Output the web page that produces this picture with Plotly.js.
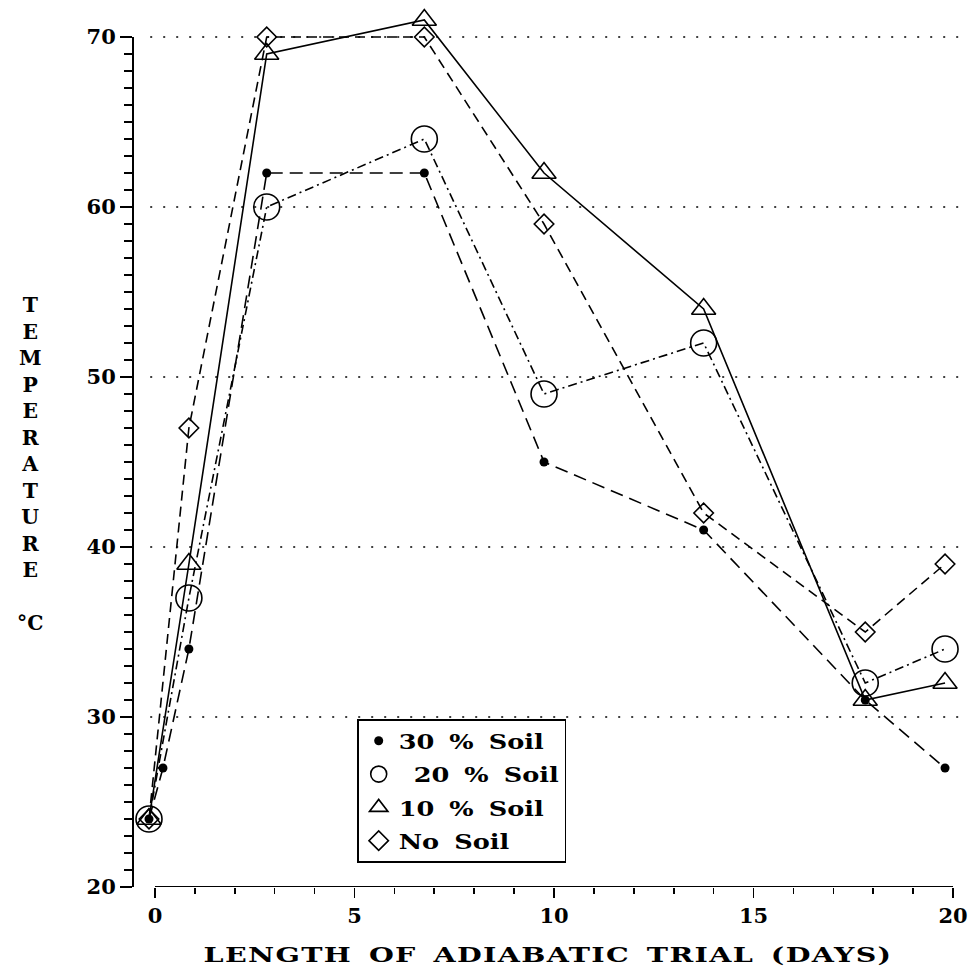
<!DOCTYPE html>
<html>
<head>
<meta charset="utf-8">
<script src="https://cdn.plot.ly/plotly-3.0.1.min.js"></script>
<style>
html,body{margin:0;padding:0;background:#fff}
/* broad, extended lettering for the legend entries and the day-axis caption */
text.legendtext{word-spacing:5px;transform-box:fill-box;transform-origin:left center;transform:scaleX(1.22)}
text.xtitle{letter-spacing:1px;word-spacing:4px;transform-box:fill-box;transform-origin:center;transform:scaleX(1.36)}
</style>
</head>
<body>
<div id="chart" style="width:976px;height:975px"></div>
<script>
// Days on which the compost temperature was recorded
const daysMain = [-0.15, 0.85, 2.8, 6.75, 9.75, 13.75, 17.8, 19.8];
const days30 = [-0.15, 0.2, 0.85, 2.8, 6.75, 9.75, 13.75, 17.8, 19.8];

// Temperature (°C) for each soil proportion
const temp30 = [24, 27, 34, 62, 62, 45, 41, 31, 27];
const temp20 = [24, 37, 60, 64, 49, 52, 32, 34];
const temp10 = [24, 39, 69, 71, 62, 54, 31, 32];
const tempNone = [24, 47, 70, 70, 59, 42, 35, 39];

const seriesNames = ['30 % Soil', '\u00a020 % Soil', '10 % Soil', 'No Soil'];

// Axis ticks and reference lines
const xTicks = [0, 5, 10, 15, 20];
const yTicks = [20, 30, 40, 50, 60, 70];
const gridVals = [30, 40, 50, 60, 70];
const xTitle = 'LENGTH OF ADIABATIC TRIAL (DAYS)';
const yTitleWord = 'TEMPERATURE';
const yTitleUnit = '°C';

const FONT = 'DejaVu Serif';
const xMinor = [];
for (let v = xTicks[0]; v <= xTicks[xTicks.length - 1]; v++) xMinor.push(v);
const yMinor = [];
for (let v = yTicks[0]; v <= yTicks[yTicks.length - 1]; v++) yMinor.push(v);

const series = [
  {x: days30, y: temp30, name: seriesNames[0], dash: '13px,7px',
   marker: {symbol: 'circle', size: 9, color: '#000'}},
  {x: daysMain, y: temp20, name: seriesNames[1], dash: '9px,4px,2px,4px',
   marker: {symbol: 'circle-open', size: 26, color: '#000', line: {width: 1.6, color: '#000'}}},
  {x: daysMain, y: temp10, name: seriesNames[2], dash: 'solid',
   marker: {symbol: 'triangle-up-open', size: 21, color: '#000', line: {width: 1.6, color: '#000'}}},
  {x: daysMain, y: tempNone, name: seriesNames[3], dash: '10px,6px',
   marker: {symbol: 'diamond-open', size: 15, color: '#000', line: {width: 1.6, color: '#000'}}}
];

const traces = [];
series.forEach((s, i) => {
  traces.push({
    x: s.x, y: s.y, type: 'scatter', mode: 'lines',
    line: {color: '#000', width: 1.6, dash: s.dash},
    showlegend: false, legendgroup: 'g' + i, hoverinfo: 'skip'
  });
});
series.forEach((s, i) => {
  traces.push({
    x: s.x, y: s.y, type: 'scatter', mode: 'markers', name: s.name,
    marker: s.marker, cliponaxis: false, legendgroup: 'g' + i
  });
});

const shapes = [];
gridVals.forEach(v => {
  shapes.push({type: 'line', xref: 'x', yref: 'y', x0: -0.12, x1: 20.2, y0: v, y1: v,
    line: {color: '#000', width: 1.6, dash: '2px,11px'}, layer: 'below'});
});
// axis spines: y from 20 to 70, x from 0 to 20
shapes.push({type: 'line', xref: 'paper', yref: 'y', x0: 0, x1: 0,
  y0: yTicks[0], y1: yTicks[yTicks.length - 1], line: {color: '#000', width: 2}});
shapes.push({type: 'line', xref: 'x', yref: 'y', x0: xTicks[0], x1: xTicks[xTicks.length - 1],
  y0: yTicks[0], y1: yTicks[0], line: {color: '#000', width: 2}});

const yTitleText = yTitleWord.split('').join('<br>') + '<br><br>' + yTitleUnit;

const layout = {
  width: 976, height: 975,
  margin: {l: 133, r: 13, t: 3, b: 88},
  paper_bgcolor: '#fff', plot_bgcolor: '#fff',
  font: {family: FONT, color: '#000', size: 21, weight: 'bold'},
  showlegend: true,
  legend: {
    x: 0.27, y: 0.19, xanchor: 'left', yanchor: 'top',
    bgcolor: '#fff', bordercolor: '#000', borderwidth: 1.6,
    font: {family: FONT, size: 21, color: '#000', weight: 'bold'},
    traceorder: 'grouped', tracegroupgap: 3
  },
  xaxis: {
    range: [-0.551, 20.25], showgrid: false, zeroline: false, showline: false,
    tickmode: 'array', tickvals: xTicks, ticktext: xTicks.map(String),
    ticks: 'outside', ticklen: 10, tickwidth: 1.6, tickcolor: '#000',
    minor: {tickmode: 'array', tickvals: xMinor, ticks: 'outside', ticklen: 6, tickwidth: 1.6, tickcolor: '#000', showgrid: false},
    tickfont: {family: FONT, size: 21, color: '#000', weight: 'bold'},
    title: {text: xTitle, font: {family: FONT, size: 21, color: '#000', weight: 'bold'}, standoff: 20}
  },
  yaxis: {
    range: [20, 72], showgrid: false, zeroline: false, showline: false,
    tickmode: 'array', tickvals: yTicks, ticktext: yTicks.map(String),
    ticks: 'outside', ticklen: 12, tickwidth: 1.6, tickcolor: '#000',
    minor: {tickmode: 'array', tickvals: yMinor, ticks: 'outside', ticklen: 8, tickwidth: 1.6, tickcolor: '#000', showgrid: false},
    tickfont: {family: FONT, size: 21, color: '#000', weight: 'bold'},
    title: {text: ''}
  },
  shapes: shapes,
  annotations: [{
    xref: 'paper', yref: 'paper', x: -0.124, y: 0.4785, xanchor: 'center', yanchor: 'middle',
    text: yTitleText, showarrow: false, align: 'center',
    font: {family: FONT, size: 20.4, color: '#000', weight: 'bold'}
  }]
};

Plotly.newPlot('chart', traces, layout, {displayModeBar: false, staticPlot: true});
</script>
</body>
</html>
